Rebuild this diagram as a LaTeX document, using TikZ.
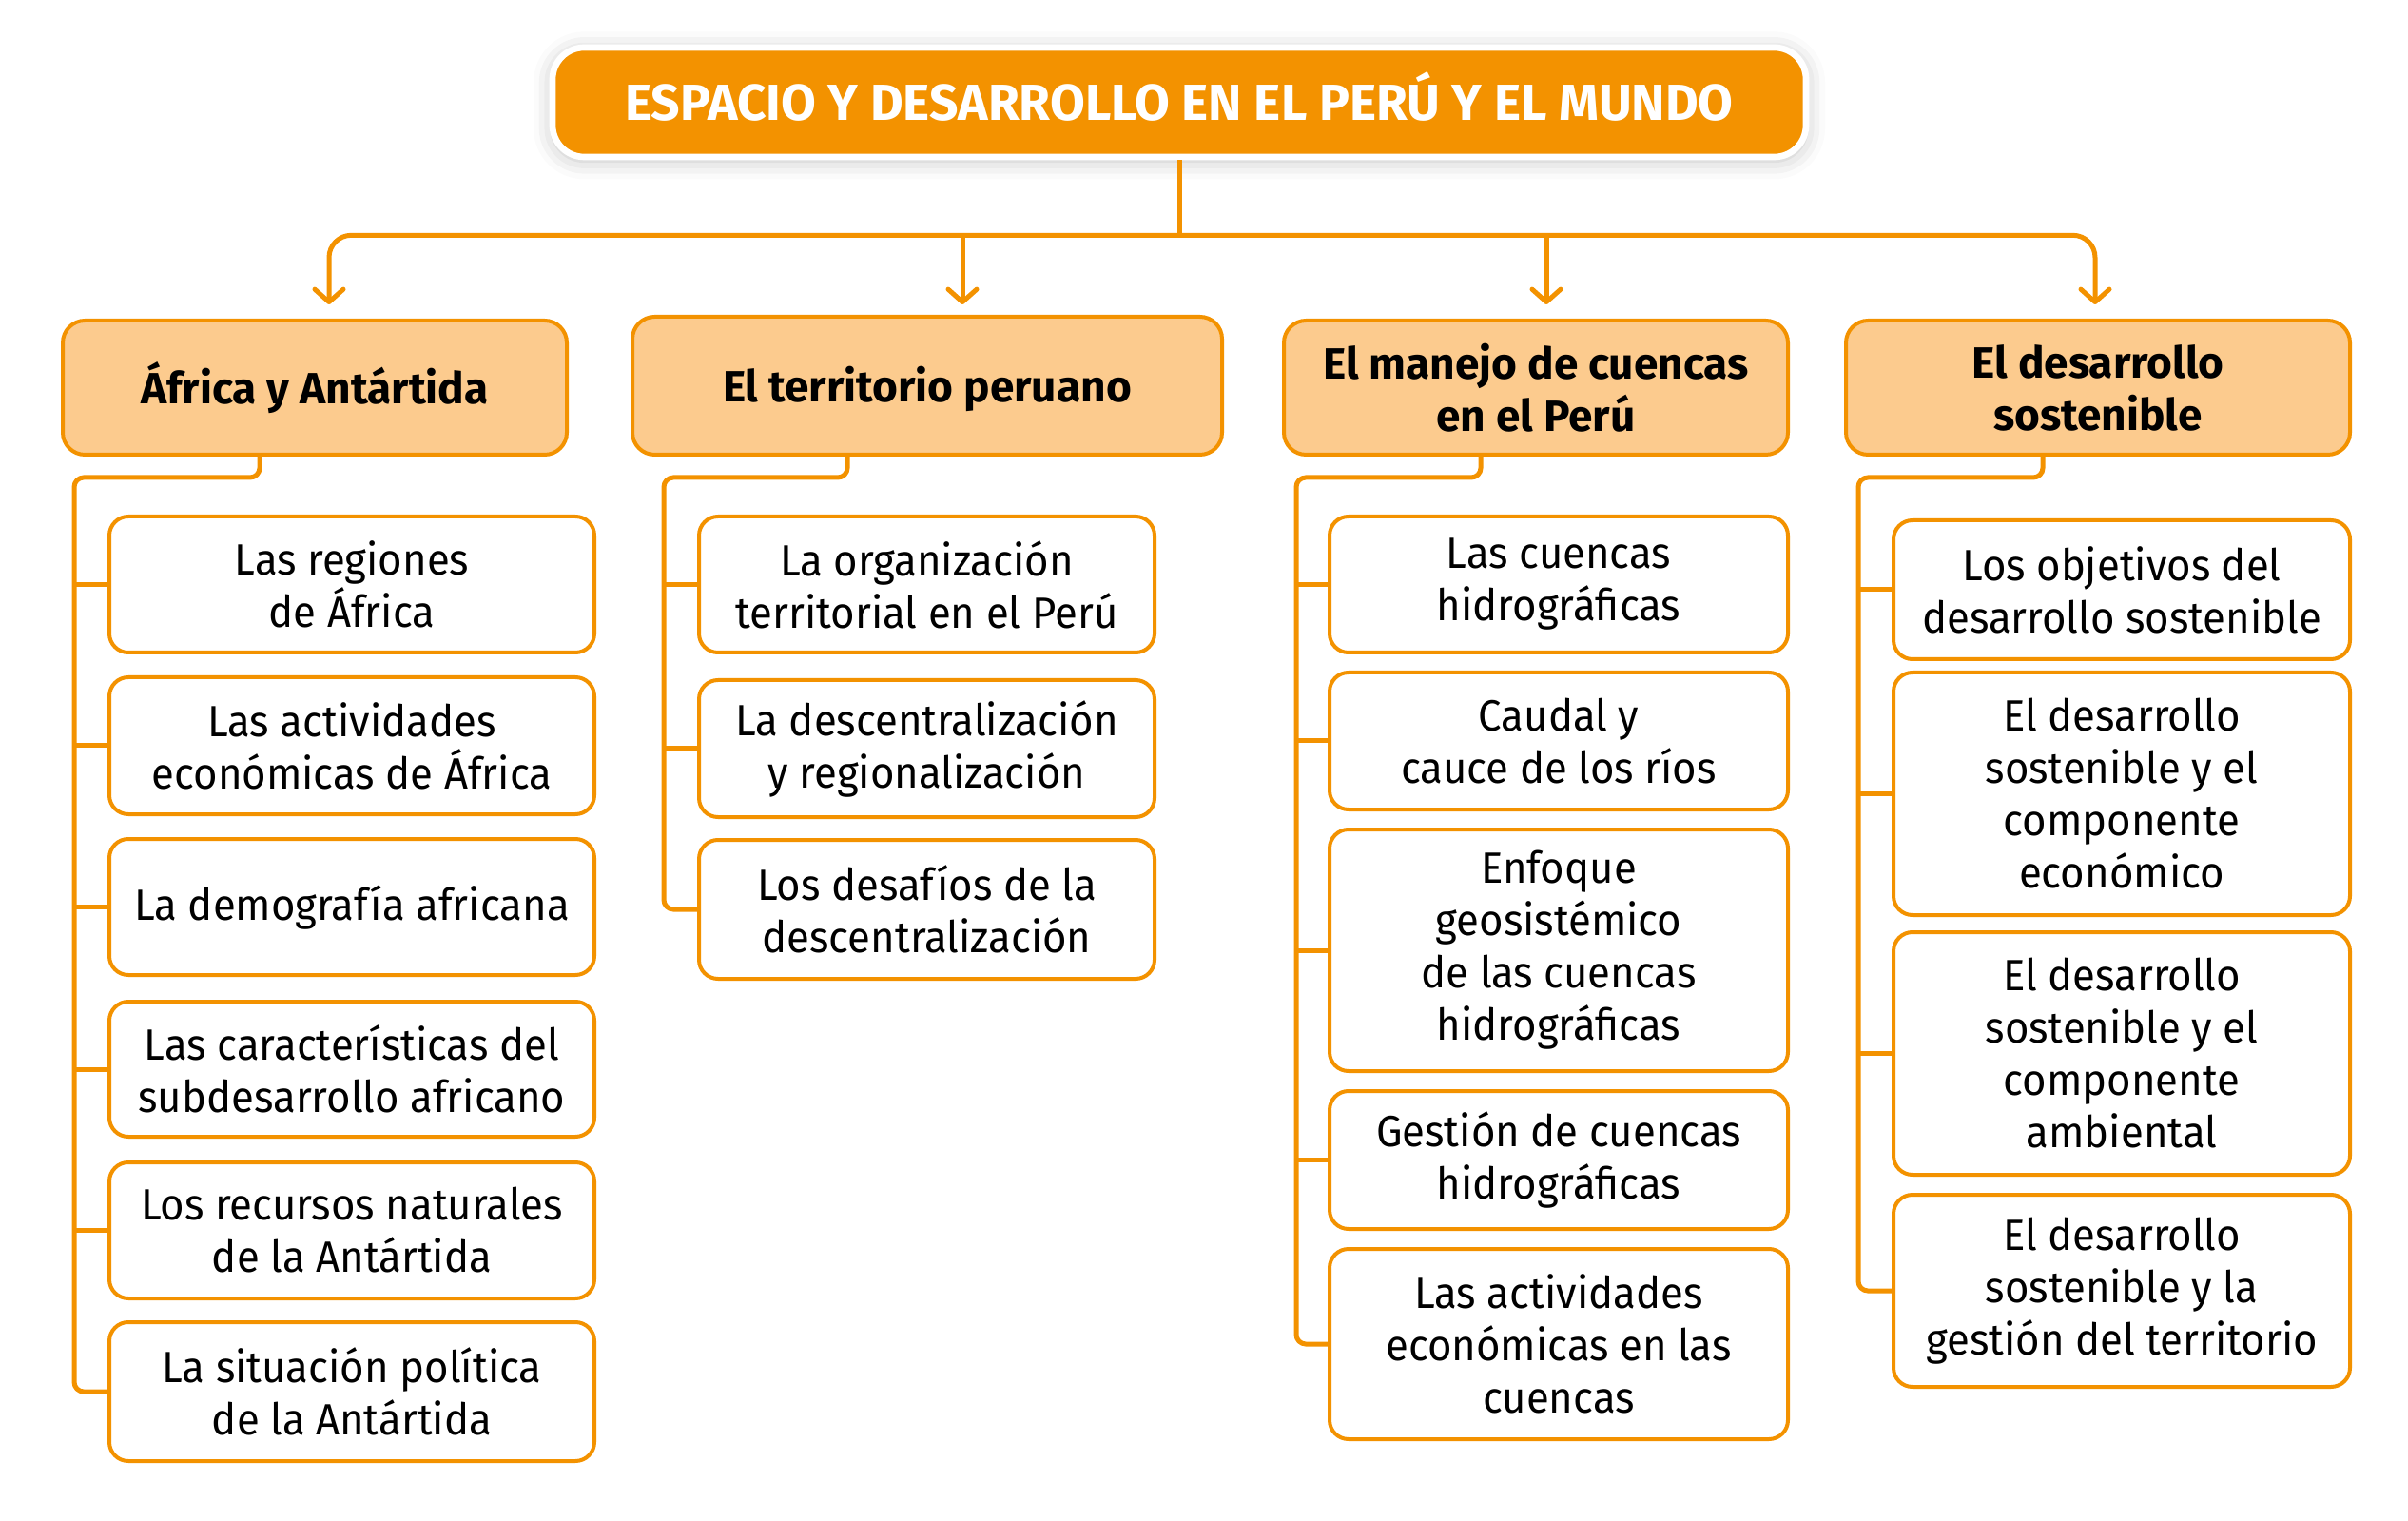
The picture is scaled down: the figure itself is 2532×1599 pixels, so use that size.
\documentclass[tikz,border=0pt]{standalone}
\usepackage{fontspec}
\setmainfont{Fira Sans}
\newfontfamily\bodyfont[FakeStretch=0.95]{Fira Sans}
\usetikzlibrary{arrows.meta,shadows.blur}
\definecolor{org}{RGB}{243,146,0}
\definecolor{lorg}{RGB}{252,203,142}
\tikzset{
  conn/.style={draw=org,line width=1.5pt},
  arr/.style={-{Straight Barb[round,length=4pt,width=9pt]}},
  sz/.style 2 args={minimum width=#1*0.3pt,minimum height=#2*0.3pt},
  box/.style={draw=org,line width=1.2pt,fill=white,rounded corners=6pt,align=center,inner sep=0pt,font=\bodyfont\fontsize{13.8}{16.5}\selectfont},
  hdr/.style={draw=org,line width=1.2pt,fill=lorg,rounded corners=7pt,align=center,inner sep=0pt,font=\fontsize{13.8}{16.5}\selectfont\bfseries},
  ttl/.style={draw=white,line width=2pt,fill=org,rounded corners=10pt,text=white,align=center,inner sep=0pt,text height=11.2pt,text depth=0pt,font=\fontsize{16}{19}\selectfont\bfseries,blur shadow={shadow xshift=0pt,shadow yshift=-1pt,shadow blur radius=6pt,shadow opacity=25}}
}
\begin{document}
\begin{tikzpicture}[x=0.3pt,y=-0.3pt]
\useasboundingbox (0,0) rectangle (2532,1599);

% title
\node[ttl,sz={1318}{115}] (title) at (1240,107.5) {ESPACIO Y DESARROLLO EN EL PERÚ Y EL MUNDO};

% headers
\node[hdr,sz={530}{141},text height=11pt,text depth=0.5pt] (h1) at (331,407.5) {África y Antártida};
\node[hdr,sz={620}{145},text height=11pt,text depth=0.5pt] (h2) at (975,405.5) {El territorio peruano};
\node[hdr,sz={530}{141}] (h3) at (1615,407.5) {El manejo de cuencas\\en el Perú};
\node[hdr,sz={530}{141}] (h4) at (2206,407.5) {El desarrollo\\sostenible};

% column 1
\node[box,sz={510}{143}] (c11) at (370,614.5) {Las regiones\\de África};
\node[box,sz={510}{144}] (c12) at (370,784) {Las actividades\\económicas de África};
\node[box,sz={510}{143}] (c13) at (370,953.5) {La demografía africana};
\node[box,sz={510}{142}] (c14) at (370,1124) {Las características del\\subdesarrollo africano};
\node[box,sz={510}{143}] (c15) at (370,1293.5) {Los recursos naturales\\de la Antártida};
\node[box,sz={510}{146}] (c16) at (370,1463) {La situación política\\de la Antártida};

% column 2
\node[box,sz={479}{143}] (c21) at (974.5,614.5) {La organización\\territorial en el Perú};
\node[box,sz={479}{144}] (c22) at (974.5,787) {La descentralización\\y regionalización};
\node[box,sz={479}{146}] (c23) at (974.5,956) {Los desafíos de la\\descentralización};

% column 3
\node[box,sz={482}{143}] (c31) at (1639,614.5) {Las cuencas\\hidrográficas};
\node[box,sz={482}{144}] (c32) at (1639,779) {Caudal y\\cauce de los ríos};
\node[box,sz={482}{254}] (c33) at (1639,999) {Enfoque\\geosistémico\\de las cuencas\\hidrográficas};
\node[box,sz={482}{145}] (c34) at (1639,1219.5) {Gestión de cuencas\\hidrográficas};
\node[box,sz={482}{200}] (c35) at (1639,1413) {Las actividades\\económicas en las\\cuencas};

% column 4
\node[box,sz={480}{146}] (c41) at (2231,620) {Los objetivos del\\desarrollo sostenible};
\node[box,sz={480}{255}] (c42) at (2231,834.5) {El desarrollo\\sostenible y el\\componente\\económico};
\node[box,sz={480}{255}] (c43) at (2231,1107.5) {El desarrollo\\sostenible y el\\componente\\ambiental};
\node[box,sz={480}{202}] (c44) at (2231,1357) {El desarrollo\\sostenible y la\\gestión del territorio};

% top connectors
\coordinate (bus) at ([yshift=-23.7pt]title.south);
\coordinate (a1) at (346,320);
\coordinate (a2) at (1012,320);
\coordinate (a3) at (1626,320);
\coordinate (a4) at (2203,320);
\draw[conn] (title.south) -- (bus);
\draw[conn,arr,rounded corners=7pt] (bus) -| (a1);
\draw[conn,arr,rounded corners=7pt] (bus) -| (a4);
\draw[conn,arr] (a2 |- bus) -- (a2);
\draw[conn,arr] (a3 |- bus) -- (a3);

% trunks
\coordinate (t1) at (78,502);
\coordinate (t2) at (698,502);
\coordinate (t3) at (1363,502);
\coordinate (t4) at (1954,502);
\draw[conn,rounded corners=3pt] ([xshift=-17.4pt]h1.south) |- (t1) |- (c16.west);
\draw[conn,rounded corners=3pt] ([xshift=-25.2pt]h2.south) |- (t2) |- (c23.west);
\draw[conn,rounded corners=3pt] ([xshift=-17.4pt]h3.south) |- (t3) |- (c35.west);
\draw[conn,rounded corners=3pt] ([xshift=-17.4pt]h4.south) |- (t4) |- (c44.west);
\foreach \c in {c11,c12,c13,c14,c15} \draw[conn] (\c.west) -- (\c.west -| t1);
\foreach \c in {c21,c22} \draw[conn] (\c.west) -- (\c.west -| t2);
\foreach \c in {c31,c32,c33,c34} \draw[conn] (\c.west) -- (\c.west -| t3);
\foreach \c in {c41,c42,c43} \draw[conn] (\c.west) -- (\c.west -| t4);
\end{tikzpicture}
\end{document}
